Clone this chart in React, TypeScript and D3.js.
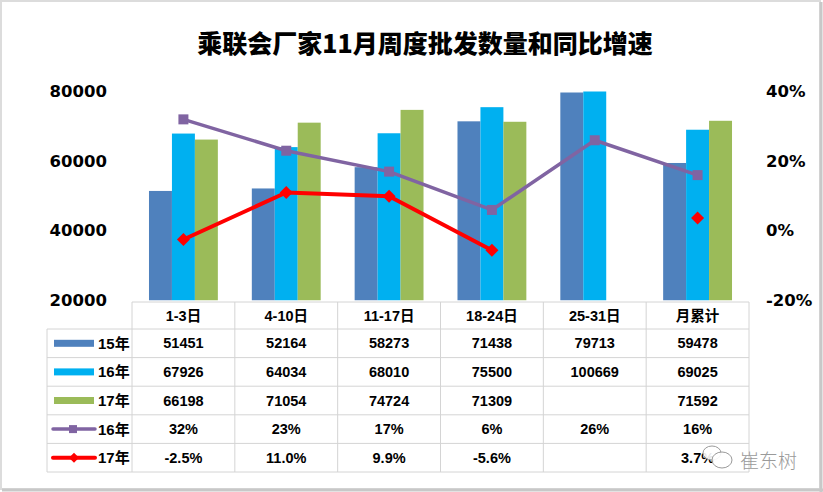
import React from 'react';
import * as d3 from 'd3';

// chart data
const categories = ['1-3日', '4-10日', '11-17日', '18-24日', '25-31日', '月累计'];
const barSeries = ['15年', '16年', '17年'];
const sales15 = [51451, 52164, 58273, 71438, 79713, 59478];
const sales16 = [67926, 64034, 68010, 75500, 100669, 69025];
const sales17: (number | null)[] = [66198, 71054, 74724, 71309, null, 71592];
const growth16 = [32, 23, 17, 6, 26, 16];
const growth17: (number | null)[] = [-2.5, 11.0, 9.9, -5.6, null, 3.7];
const leftTicks = [20000, 40000, 60000, 80000];
const rightTicks = [-20, 0, 20, 40];

const W = 823;
const H = 492;
const colors = ['#4F81BD', '#00B0F0', '#9BBB59'];
const purple = '#8064A2';
const red = '#FF0000';
const tableFont = '"Liberation Sans", Arial, "Noto Sans CJK SC", sans-serif';
const axisFont = '"DejaVu Sans", "Noto Sans", sans-serif';

const App = () => {
  const plotLeft = 132;
  const plotRight = 749;
  const plotTop = 91.5;
  const plotBottom = 300.5;

  const x = d3.scaleBand().domain(categories).range([plotLeft, plotRight]);
  const xs = d3.scaleBand().domain(barSeries).range([0, x.bandwidth()]).paddingOuter(0.74);
  const y = d3.scaleLinear().domain([20000, 80000]).range([plotBottom, plotTop]);
  const yr = d3.scaleLinear().domain([-20, 40]).range([plotBottom, plotTop]);

  const barData = [sales15, sales16, sales17];
  const cx = (c: string) => (x(c) as number) + x.bandwidth() / 2;

  const line = d3.line<number | null>()
    .defined(d => d != null)
    .x((d, i) => cx(categories[i]))
    .y(d => yr(d as number));

  // table geometry
  const tableTop = 302;
  const headerH = 27;
  const rowH = 28.6;
  const legendLeft = 47;
  const rowsTop = tableTop + headerH;
  const rowLabels = ['15年', '16年', '17年', '16年', '17年'];
  const rowTexts: string[][] = [
    sales15.map(v => String(v)),
    sales16.map(v => String(v)),
    sales17.map(v => (v == null ? '' : String(v))),
    growth16.map(v => v.toFixed(0) + '%'),
    growth17.map(v => (v == null ? '' : v.toFixed(1) + '%')),
  ];

  const diamond = (px: number, py: number, r: number) =>
    `M${px},${py - r}L${px + r},${py}L${px},${py + r}L${px - r},${py}Z`;

  return (
    <div>
      <style>{`body{margin:0}`}</style>
      <svg width={W} height={H} style={{ display: 'block' }}>
        <defs>
          <clipPath id="plotClip">
            <rect x={plotLeft} y={plotTop} width={plotRight - plotLeft} height={plotBottom - plotTop} />
          </clipPath>
        </defs>
        <rect x={0} y={0} width={W} height={H} fill="#ffffff" />
        {/* frame */}
        <rect x={1} y={1} width={W - 4} height={H - 4} fill="none" stroke="#dcdcdc" strokeWidth={2} />
        <line x1={W - 2} y1={2} x2={W - 2} y2={H} stroke="#c8c8c8" strokeWidth={3} />
        <line x1={2} y1={H - 2} x2={W} y2={H - 2} stroke="#c8c8c8" strokeWidth={3} />

        {/* title */}
        <text x={425} y={42} textAnchor="middle" dominantBaseline="central"
          fontFamily='"Noto Sans CJK SC", sans-serif' fontWeight={900} fontSize={25} fill="#000">
          乘联会厂家11月周度批发数量和同比增速
        </text>

        {/* bars */}
        <g clipPath="url(#plotClip)">
          {barData.map((series, si) =>
            series.map((v, ci) => v == null ? null : (
              <rect key={`${si}-${ci}`}
                x={(x(categories[ci]) as number) + (xs(barSeries[si]) as number)}
                y={y(v)}
                width={xs.bandwidth()}
                height={plotBottom - y(v)}
                fill={colors[si]} />
            ))
          )}
        </g>

        {/* lines */}
        <path d={line(growth16) || ''} fill="none" stroke={purple} strokeWidth={3.5} strokeLinejoin="round" />
        {growth16.map((v, i) => (
          <rect key={`p${i}`} x={cx(categories[i]) - 5} y={yr(v) - 5} width={10} height={10} fill={purple} />
        ))}
        <path d={line(growth17) || ''} fill="none" stroke={red} strokeWidth={4} strokeLinejoin="round" />
        {growth17.map((v, i) => v == null ? null : (
          <path key={`r${i}`} d={diamond(cx(categories[i]), yr(v), 6.5)} fill={red} />
        ))}

        {/* left axis */}
        {leftTicks.map(t => (
          <text key={t} x={107} y={y(t)} textAnchor="end" dominantBaseline="central"
            fontFamily={axisFont} fontWeight={700} fontSize={16.5} fill="#000">{t}</text>
        ))}
        {/* right axis */}
        {rightTicks.map(t => (
          <text key={t} x={766} y={yr(t)} textAnchor="start" dominantBaseline="central"
            fontFamily={axisFont} fontWeight={700} fontSize={16.5} fill="#000">{t}%</text>
        ))}

        {/* data table */}
        <g stroke="#d4d4d4" strokeWidth={1}>
          <line x1={plotLeft} y1={tableTop} x2={plotRight} y2={tableTop} />
          {d3.range(6).map(r => (
            <line key={r} x1={legendLeft} y1={rowsTop + r * rowH} x2={plotRight} y2={rowsTop + r * rowH} />
          ))}
          <line x1={legendLeft} y1={rowsTop} x2={legendLeft} y2={rowsTop + 5 * rowH} />
          {categories.map(c => (
            <line key={c} x1={x(c) as number} y1={tableTop} x2={x(c) as number} y2={rowsTop + 5 * rowH} />
          ))}
          <line x1={plotRight} y1={tableTop} x2={plotRight} y2={rowsTop + 5 * rowH} />
        </g>
        {categories.map(c => (
          <text key={c} x={cx(c)} y={tableTop + headerH / 2 + 0.5} textAnchor="middle" dominantBaseline="central"
            fontFamily={tableFont} fontWeight={700} fontSize={14.5} fill="#000">{c}</text>
        ))}
        {rowTexts.map((row, r) => (
          <g key={r}>
            {row.map((t, ci) => (
              <text key={ci} x={cx(categories[ci])} y={rowsTop + r * rowH + rowH / 2} textAnchor="middle"
                dominantBaseline="central" fontFamily={tableFont} fontWeight={700} fontSize={14.5} fill="#000">{t}</text>
            ))}
          </g>
        ))}

        {/* legend keys in the table */}
        {rowLabels.map((lab, r) => {
          const my = rowsTop + r * rowH + rowH / 2;
          return (
            <g key={r}>
              {r < 3 && <rect x={54} y={my - 3.5} width={40} height={7} fill={colors[r]} />}
              {r === 3 && (
                <g>
                  <line x1={53} y1={my} x2={95} y2={my} stroke={purple} strokeWidth={3.5} strokeLinecap="round" />
                  <rect x={69} y={my - 4} width={8} height={8} fill={purple} />
                </g>
              )}
              {r === 4 && (
                <g>
                  <line x1={53} y1={my} x2={95} y2={my} stroke={red} strokeWidth={4} strokeLinecap="round" />
                  <path d={diamond(74, my, 5)} fill={red} />
                </g>
              )}
              <text x={98} y={my} dominantBaseline="central" fontFamily={tableFont} fontWeight={700}
                fontSize={15} fill="#000">{lab}</text>
            </g>
          );
        })}

        {/* watermark */}
        <g stroke="#9a9a9a" strokeWidth={1} fill="#ffffff" fillOpacity={0.9}>
          <ellipse cx={712} cy={453} rx={9} ry={7} />
          <ellipse cx={722} cy={460} rx={10} ry={8} />
        </g>
        <text x={740} y={459} dominantBaseline="central" fontFamily='"Noto Sans CJK SC", sans-serif'
          fontWeight={300} fontSize={19} fill="#9a9a9a">崔东树</text>
      </svg>
    </div>
  );
};

export default App;
